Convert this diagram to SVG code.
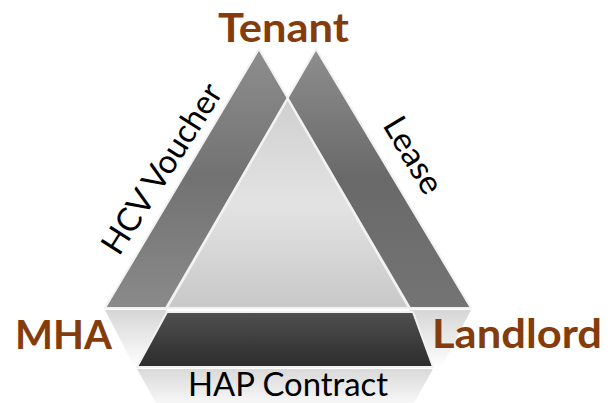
<svg xmlns="http://www.w3.org/2000/svg" width="616" height="403" viewBox="0 0 616 403">
  <style>
    .node-label { font-family: Lato, "Liberation Sans", sans-serif; font-weight: bold; font-size: 41px; fill: #843C0C; }
    .edge-label { font-family: Lato, "Liberation Sans", sans-serif; font-size: 33px; fill: #000000; }
    .bevel { stroke: #f2f2f2; stroke-width: 2; stroke-linejoin: round; }
  </style>
  <defs>
    <linearGradient id="gLeft" x1="0" y1="0" x2="0" y2="1">
      <stop offset="0" stop-color="#8e8e8e"/>
      <stop offset="0.5" stop-color="#727272"/>
      <stop offset="1" stop-color="#8a8a8a"/>
    </linearGradient>
    <linearGradient id="gRight" x1="0" y1="0" x2="0" y2="1">
      <stop offset="0" stop-color="#8e8e8e"/>
      <stop offset="0.5" stop-color="#696969"/>
      <stop offset="1" stop-color="#747474"/>
    </linearGradient>
    <linearGradient id="gInner" x1="0" y1="0" x2="0" y2="1">
      <stop offset="0" stop-color="#cfcfcf"/>
      <stop offset="0.5" stop-color="#e3e3e3"/>
      <stop offset="1" stop-color="#c8c8c8"/>
    </linearGradient>
    <linearGradient id="gHap" x1="0" y1="0" x2="0" y2="1">
      <stop offset="0" stop-color="#505050"/>
      <stop offset="1" stop-color="#2c2c2c"/>
    </linearGradient>
    <linearGradient id="gRefl" x1="0" y1="0" x2="0" y2="1">
      <stop offset="0" stop-color="#d6d6d6"/>
      <stop offset="1" stop-color="#ffffff"/>
    </linearGradient>
    <linearGradient id="gReflHap" x1="0" y1="0" x2="0" y2="1">
      <stop offset="0" stop-color="#d9d9d9"/>
      <stop offset="1" stop-color="#f7f7f7"/>
    </linearGradient>
  </defs>
  <rect width="616" height="403" fill="#ffffff"/>

  <g id="reflections">
    <polygon points="105,310 166,310 200,368 135,368" fill="url(#gRefl)"/>
    <polygon points="410,310 471,310 441,368 378,368" fill="url(#gRefl)"/>
    <polygon points="137,369 433,369 414,403 156,403" fill="url(#gReflHap)"/>
  </g>

  <g id="connectors">
    <g id="hcv-voucher">
      <polygon class="bevel" points="259,49 287.6,98 166,308 105,308" fill="url(#gLeft)"/>
      <text class="edge-label" transform="translate(119,257) rotate(-57.5)" textLength="195" lengthAdjust="spacingAndGlyphs">HCV Voucher</text>
    </g>
    <g id="lease">
      <polygon class="bevel" points="316,49 471,308 410,308 287.6,98" fill="url(#gRight)"/>
      <text class="edge-label" transform="translate(382,125) rotate(59.1)" textLength="84" lengthAdjust="spacingAndGlyphs">Lease</text>
    </g>
    <g id="center">
      <polygon class="bevel" points="287.6,99 167,308 409,308" fill="url(#gInner)"/>
    </g>
    <g id="hap-contract">
      <polygon class="bevel" points="167,312 413,312 433,367 137,367" fill="url(#gHap)"/>
      <text class="edge-label" x="188" y="396" textLength="200" lengthAdjust="spacingAndGlyphs">HAP Contract</text>
    </g>
  </g>

  <g id="tenant">
    <text class="node-label" x="218" y="42" textLength="131" lengthAdjust="spacingAndGlyphs">Tenant</text>
  </g>
  <g id="mha">
    <text class="node-label" x="15" y="349" textLength="97" lengthAdjust="spacingAndGlyphs">MHA</text>
  </g>
  <g id="landlord">
    <text class="node-label" x="432" y="348" textLength="170" lengthAdjust="spacingAndGlyphs">Landlord</text>
  </g>
</svg>
